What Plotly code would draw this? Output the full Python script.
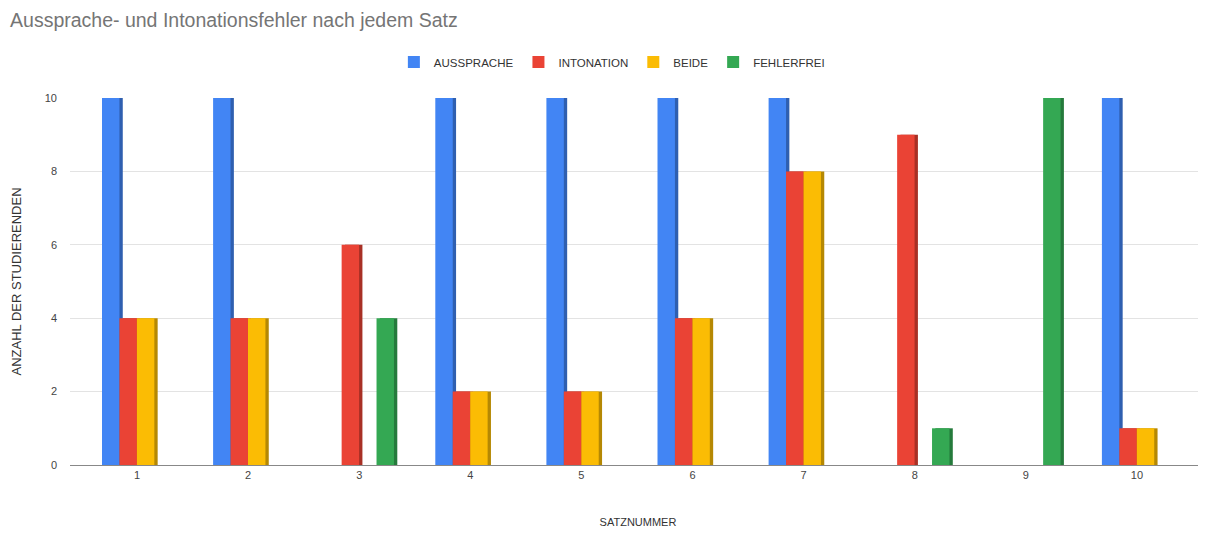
import plotly.graph_objects as go

categories = ["1", "2", "3", "4", "5", "6", "7", "8", "9", "10"]
aussprache = [10, 10, 0, 10, 10, 10, 10, 0, 0, 10]
intonation = [4, 4, 6, 2, 2, 4, 8, 9, 0, 1]
beide = [4, 4, 0, 2, 2, 4, 8, 0, 0, 1]
fehlerfrei = [0, 0, 4, 0, 0, 0, 0, 1, 10, 0]

series = [
    ("AUSSPRACHE", aussprache, "#4285F4", "#2F5FB0"),
    ("INTONATION", intonation, "#EA4335", "#A83025"),
    ("BEIDE", beide, "#FBBC04", "#B58803"),
    ("FEHLERFREI", fehlerfrei, "#34A853", "#257A3C"),
]

bar_w = 0.157
depth = 0.03
start = -0.315

fig = go.Figure()
# side faces (darker, behind)
for i, (name, vals, col, dark) in enumerate(series):
    fig.add_trace(go.Bar(
        x=categories, y=vals, name=name, showlegend=False,
        marker=dict(color=dark, line=dict(width=0)),
        width=bar_w, offset=start + i * bar_w + depth,
        hoverinfo="skip",
    ))
# front faces
for i, (name, vals, col, dark) in enumerate(series):
    fig.add_trace(go.Bar(
        x=categories, y=vals, name=name,
        marker=dict(color=col, line=dict(width=0)),
        width=bar_w, offset=start + i * bar_w,
    ))

fig.update_layout(
    width=1206, height=533,
    barmode="overlay",
    paper_bgcolor="white", plot_bgcolor="white",
    font=dict(family="Liberation Sans, Arial, sans-serif", color="#444444"),
    title=dict(text="Aussprache- und Intonationsfehler nach jedem Satz",
               x=0.0017, xanchor="left", xref="container",
               y=0.977, yanchor="middle", yref="container",
               font=dict(size=19.5, color="#757575")),
    margin=dict(l=62, r=8, t=90, b=76),
    legend=dict(orientation="h", x=0.477, xanchor="center", y=1.098, yanchor="middle",
                font=dict(size=11.5, color="#333333"), itemwidth=30, traceorder="normal"),
)
fig.update_xaxes(type="category", range=[-0.603, 9.622], showgrid=False,
                 showline=True, linecolor="#888888", linewidth=1,
                 ticks="", tickfont=dict(size=11, color="#444444"),
                 automargin=False,
                 title=dict(text="SATZNUMMER", font=dict(size=11, color="#333333"), standoff=38))
fig.update_yaxes(range=[0, 10], dtick=2, showgrid=True, gridcolor="#E3E3E3",
                 zeroline=False, tickfont=dict(size=11, color="#444444"),
                 ticklabelstandoff=12, automargin=False,
                 title=dict(text="ANZAHL DER STUDIERENDEN", font=dict(size=13, color="#333333"), standoff=20))

fig.write_html("out.html")
